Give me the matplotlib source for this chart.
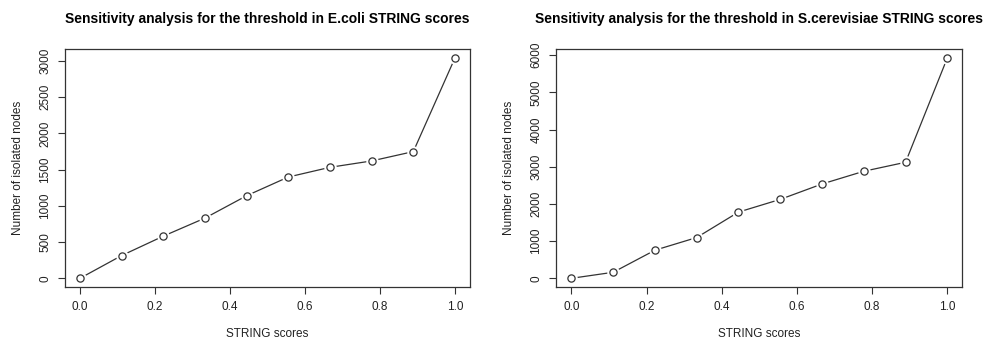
import matplotlib
matplotlib.use("Agg")
import matplotlib.pyplot as plt
import numpy as np

plt.rcParams['font.family'] = ['Liberation Sans', 'DejaVu Sans']

scores = [0.0, 1/9, 2/9, 3/9, 4/9, 5/9, 6/9, 7/9, 8/9, 1.0]
ecoli_isolated = [0, 314, 582, 831, 1140, 1398, 1532, 1620, 1749, 3042]
yeast_isolated = [0, 162, 756, 1097, 1781, 2123, 2537, 2879, 3121, 5928]

titles = ["Sensitivity analysis for the threshold in E.coli STRING scores",
          "Sensitivity analysis for the threshold in S.cerevisiae STRING scores"]
xlabel = "STRING scores"
ylabel = "Number of isolated nodes"
xticks = [0.0, 0.2, 0.4, 0.6, 0.8, 1.0]
yticks_list = [[0, 500, 1000, 1500, 2000, 2500, 3000],
               [0, 1000, 2000, 3000, 4000, 5000, 6000]]

fig = plt.figure(figsize=(9.83, 3.41), dpi=100)
positions = [[0.0661, 0.158, 0.412, 0.698], [0.566, 0.158, 0.413, 0.698]]
col = '#333333'
for i, ys in enumerate([ecoli_isolated, yeast_isolated]):
    ax = fig.add_axes(positions[i])
    ax.plot(scores, ys, color=col, lw=0.9, zorder=1)
    ax.plot(scores, ys, 'o', ms=9, mfc='white', mec='none', zorder=2)
    ax.plot(scores, ys, 'o', ms=5.2, mfc='white', mec=col, mew=0.9, zorder=3)
    ymax = max(ys)
    ax.set_xlim(-0.04, 1.04)
    ax.set_ylim(-0.04 * ymax, 1.04 * ymax)
    ax.set_xticks(xticks)
    ax.set_xticklabels([f"{t:.1f}" for t in xticks])
    ax.set_yticks(yticks_list[i])
    ax.set_yticklabels([str(t) for t in yticks_list[i]], rotation=90, va='center')
    ax.tick_params(direction='out', length=5, width=0.8, color=col,
                   labelsize=8.5, labelcolor='#222222', pad=5)
    for s in ax.spines.values():
        s.set_color(col)
        s.set_linewidth(0.9)
    ax.set_xlabel(xlabel, fontsize=8.5, labelpad=11, color='#222222')
    ax.set_ylabel(ylabel, fontsize=8.5, labelpad=11, color='#222222')
    ax.set_title(titles[i], fontsize=10, fontweight='bold', pad=19)

fig.savefig("out.png", dpi=100)
